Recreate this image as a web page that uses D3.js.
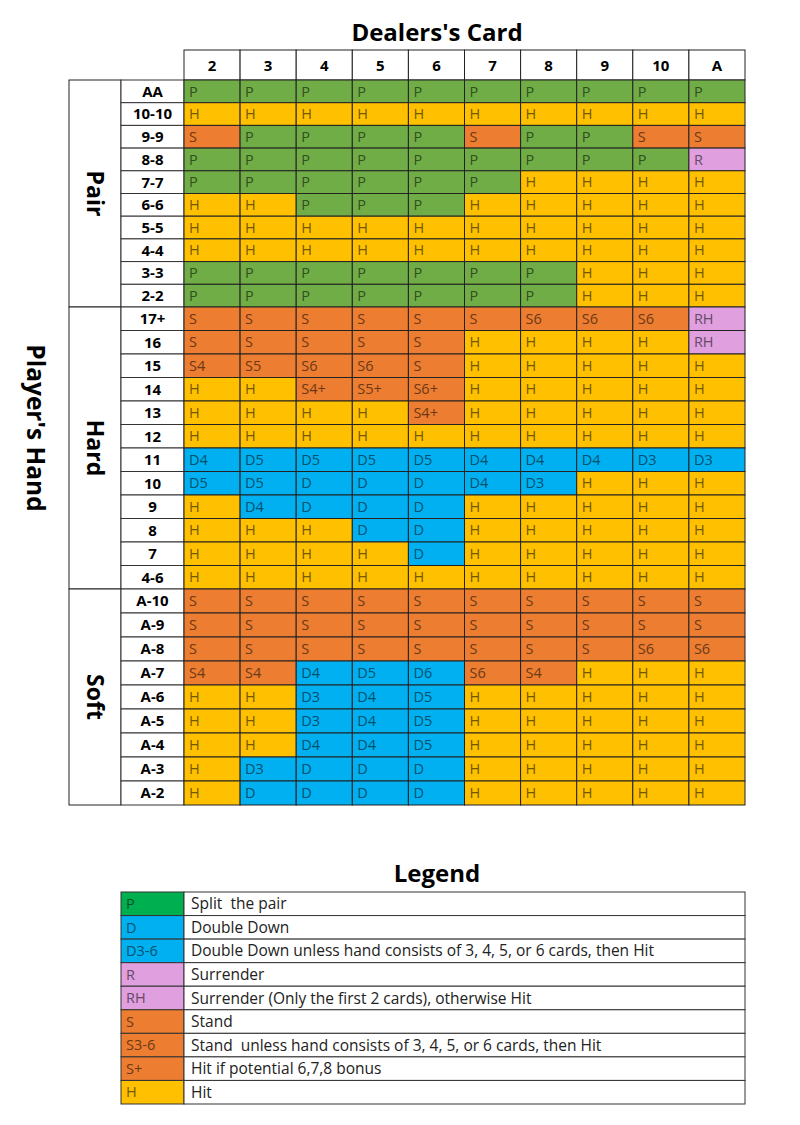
<!DOCTYPE html>
<html>
<head>
<meta charset="utf-8">
<script src="https://cdn.jsdelivr.net/npm/d3@7"></script>
<style>
  body { margin: 0; background: #fff; }
  text { font-family: "Open Sans", "Noto Sans", sans-serif; white-space: pre; }
</style>
</head>
<body>
<div id="chart"></div>
<script>
// dealer's up card (columns)
var dealerCards = ["2", "3", "4", "5", "6", "7", "8", "9", "10", "A"];

var pairHands = ["AA", "10-10", "9-9", "8-8", "7-7", "6-6", "5-5", "4-4", "3-3", "2-2"];
var pairMoves = [
  ["P","P","P","P","P","P","P","P","P","P"],
  ["H","H","H","H","H","H","H","H","H","H"],
  ["S","P","P","P","P","S","P","P","S","S"],
  ["P","P","P","P","P","P","P","P","P","R"],
  ["P","P","P","P","P","P","H","H","H","H"],
  ["H","H","P","P","P","H","H","H","H","H"],
  ["H","H","H","H","H","H","H","H","H","H"],
  ["H","H","H","H","H","H","H","H","H","H"],
  ["P","P","P","P","P","P","P","H","H","H"],
  ["P","P","P","P","P","P","P","H","H","H"]
];

var hardHands = ["17+", "16", "15", "14", "13", "12", "11", "10", "9", "8", "7", "4-6"];
var hardMoves = [
  ["S","S","S","S","S","S","S6","S6","S6","RH"],
  ["S","S","S","S","S","H","H","H","H","RH"],
  ["S4","S5","S6","S6","S","H","H","H","H","H"],
  ["H","H","S4+","S5+","S6+","H","H","H","H","H"],
  ["H","H","H","H","S4+","H","H","H","H","H"],
  ["H","H","H","H","H","H","H","H","H","H"],
  ["D4","D5","D5","D5","D5","D4","D4","D4","D3","D3"],
  ["D5","D5","D","D","D","D4","D3","H","H","H"],
  ["H","D4","D","D","D","H","H","H","H","H"],
  ["H","H","H","D","D","H","H","H","H","H"],
  ["H","H","H","H","D","H","H","H","H","H"],
  ["H","H","H","H","H","H","H","H","H","H"]
];

var softHands = ["A-10", "A-9", "A-8", "A-7", "A-6", "A-5", "A-4", "A-3", "A-2"];
var softMoves = [
  ["S","S","S","S","S","S","S","S","S","S"],
  ["S","S","S","S","S","S","S","S","S","S"],
  ["S","S","S","S","S","S","S","S","S6","S6"],
  ["S4","S4","D4","D5","D6","S6","S4","H","H","H"],
  ["H","H","D3","D4","D5","H","H","H","H","H"],
  ["H","H","D3","D4","D5","H","H","H","H","H"],
  ["H","H","D4","D4","D5","H","H","H","H","H"],
  ["H","D3","D","D","D","H","H","H","H","H"],
  ["H","D","D","D","D","H","H","H","H","H"]
];

var legendCodes = ["P", "D", "D3-6", "R", "RH", "S", "S3-6", "S+", "H"];
var legendLabels = [
  "Split  the pair",
  "Double Down",
  "Double Down unless hand consists of 3, 4, 5, or 6 cards, then Hit",
  "Surrender",
  "Surrender (Only the first 2 cards), otherwise Hit",
  "Stand",
  "Stand  unless hand consists of 3, 4, 5, or 6 cards, then Hit",
  "Hit if potential 6,7,8 bonus",
  "Hit"
];

var groups = [
  {name: "Pair", hands: pairHands, moves: pairMoves, y0: 80, y1: 307},
  {name: "Hard", hands: hardHands, moves: hardMoves, y0: 307, y1: 589},
  {name: "Soft", hands: softHands, moves: softMoves, y0: 589, y1: 805}
];

// colour by first letter of the move
var moveColor = {P: "#70ad47", H: "#ffc000", S: "#ed7d31", D: "#00b0f0", R: "#e09fde"};
var legendColor = {P: "#00b050", H: "#ffc000", S: "#ed7d31", D: "#00b0f0", R: "#e09fde"};
function textColor(c) { return d3.color(c).darker(2.2); }

var width = 800, height = 1125;
var svg = d3.select("#chart").append("svg")
  .attr("width", width)
  .attr("height", height);

var x = d3.scaleBand().domain(dealerCards).range([184, 745]);
var groupX = 69, labelX = 121;

// title
svg.append("text")
  .attr("x", 437).attr("y", 41)
  .attr("text-anchor", "middle")
  .style("font-size", "24px").style("font-weight", "bold")
  .text("Dealers's Card");

// header row
var header = svg.append("g");
header.selectAll("rect").data(dealerCards).enter().append("rect")
  .attr("x", function(d) { return x(d); })
  .attr("y", 50)
  .attr("width", x.bandwidth())
  .attr("height", 30)
  .attr("fill", "#fff").attr("stroke", "#222");
header.selectAll("text").data(dealerCards).enter().append("text")
  .attr("x", function(d) { return x(d) + x.bandwidth() / 2; })
  .attr("y", 71)
  .attr("text-anchor", "middle")
  .style("font-size", "15px").style("font-weight", "bold")
  .text(function(d) { return d; });

groups.forEach(function(g) {
  var y = d3.scaleBand().domain(g.hands).range([g.y0, g.y1]);
  var gg = svg.append("g");

  // group label box
  gg.append("rect")
    .attr("x", groupX).attr("y", g.y0)
    .attr("width", labelX - groupX).attr("height", g.y1 - g.y0)
    .attr("fill", "#fff").attr("stroke", "#222");
  gg.append("text")
    .attr("transform", "translate(" + ((groupX + labelX) / 2) + "," + ((g.y0 + g.y1) / 2) + ") rotate(90)")
    .attr("text-anchor", "middle")
    .attr("dy", "0.35em")
    .style("font-size", "23px").style("font-weight", "bold")
    .text(g.name);

  // row labels
  gg.selectAll(".rl").data(g.hands).enter().append("rect")
    .attr("x", labelX).attr("y", function(d) { return y(d); })
    .attr("width", 184 - labelX).attr("height", y.bandwidth())
    .attr("fill", "#fff").attr("stroke", "#333");
  gg.selectAll(".rlt").data(g.hands).enter().append("text")
    .attr("x", (labelX + 184) / 2)
    .attr("y", function(d) { return y(d) + y.bandwidth() / 2; })
    .attr("dy", "0.36em")
    .attr("text-anchor", "middle")
    .style("font-size", "15px").style("font-weight", "bold")
    .text(function(d) { return d; });

  // cells
  var cells = [];
  g.moves.forEach(function(row, i) {
    row.forEach(function(m, j) { cells.push({hand: g.hands[i], card: dealerCards[j], move: m}); });
  });
  gg.selectAll(".cell").data(cells).enter().append("rect")
    .attr("x", function(d) { return x(d.card); })
    .attr("y", function(d) { return y(d.hand); })
    .attr("width", x.bandwidth()).attr("height", y.bandwidth())
    .attr("fill", function(d) { return moveColor[d.move[0]]; })
    .attr("stroke", "#222").attr("stroke-width", 1);
  gg.selectAll(".ct").data(cells).enter().append("text")
    .attr("x", function(d) { return x(d.card) + 5; })
    .attr("y", function(d) { return y(d.hand) + y.bandwidth() / 2; })
    .attr("dy", "0.36em")
    .style("font-size", "14.5px")
    .attr("fill", function(d) { return textColor(moveColor[d.move[0]]); })
    .text(function(d) { return d.move; });
});

// Player's Hand label
svg.append("text")
  .attr("transform", "translate(36,428) rotate(90)")
  .attr("text-anchor", "middle")
  .attr("dy", "0.35em")
  .style("font-size", "24.5px").style("font-weight", "bold")
  .text("Player's Hand");

// legend
svg.append("text")
  .attr("x", 437).attr("y", 882)
  .attr("text-anchor", "middle")
  .style("font-size", "24px").style("font-weight", "bold")
  .text("Legend");

var ly = d3.scaleBand().domain(legendCodes).range([892, 1104]);
var lg = svg.append("g");
lg.selectAll(".lc").data(legendCodes).enter().append("rect")
  .attr("x", labelX).attr("y", function(d) { return ly(d); })
  .attr("width", 184 - labelX).attr("height", ly.bandwidth())
  .attr("fill", function(d) { return legendColor[d[0]]; })
  .attr("stroke", "#333");
lg.selectAll(".ld").data(legendCodes).enter().append("rect")
  .attr("x", 184).attr("y", function(d) { return ly(d); })
  .attr("width", 745 - 184).attr("height", ly.bandwidth())
  .attr("fill", "#fff").attr("stroke", "#333");
lg.selectAll(".lct").data(legendCodes).enter().append("text")
  .attr("x", labelX + 5)
  .attr("y", function(d) { return ly(d) + ly.bandwidth() / 2; })
  .attr("dy", "0.36em")
  .style("font-size", "14.5px")
  .attr("fill", function(d) { return textColor(legendColor[d[0]]); })
  .text(function(d) { return d; });
lg.selectAll(".ldt").data(legendCodes).enter().append("text")
  .attr("x", 191)
  .attr("y", function(d) { return ly(d) + ly.bandwidth() / 2; })
  .attr("dy", "0.36em")
  .style("font-size", "15.5px")
  .attr("fill", "#222")
  .text(function(d, i) { return legendLabels[i]; });
</script>
</body>
</html>
